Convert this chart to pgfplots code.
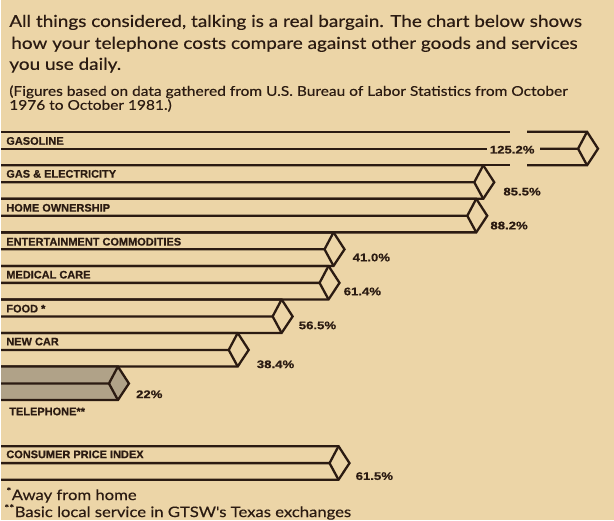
\documentclass[border=0pt]{standalone}
\usepackage{pgfplots}
\pgfplotsset{compat=1.18}
\usepackage{fontspec}
\setmainfont{Lato}
\newfontfamily\head[FakeStretch=1.15,FakeBold=0.4]{Lato}
\newfontfamily\lab[FakeBold=0.6]{Liberation Sans}
\newfontfamily\vlabf[FakeStretch=1.2,FakeBold=0.5]{Liberation Sans}
\definecolor{bg}{HTML}{ECD5A7}
\definecolor{ink}{HTML}{2B1B12}
\definecolor{telfill}{HTML}{B0A288}
% #1 extra options, #2 y of top line, #3 x of bar end (top vertex of cap)
\newcommand\pipe[3][]{%
  \pgfmathsetmacro\Yt{#2}\pgfmathsetmacro\Ym{#2+17}\pgfmathsetmacro\Yb{#2+33.6}%
  \pgfmathsetmacro\Xe{#3}\pgfmathsetmacro\Xr{#3+11}\pgfmathsetmacro\Xl{#3-9}%
  \edef\doit{%
    \noexpand\addplot[ink,line width=2.3pt,line join=miter,#1] coordinates {(0,\Yt) (\Xe,\Yt) (\Xr,\Ym) (\Xe,\Yb) (0,\Yb)};
    \noexpand\addplot[ink,line width=2.3pt,line join=miter] coordinates {(0,\Ym) (\Xl,\Ym) (\Xe,\Yt)};
    \noexpand\addplot[ink,line width=2.3pt] coordinates {(\Xl,\Ym) (\Xe,\Yb)};}%
  \doit}
\newcommand\blab[2]{\node[anchor=base west,inner sep=0pt,text=ink] at (axis cs:5,#1) {\lab\fontsize{11}{12}\selectfont\bfseries #2};}
\newcommand\vlab[3]{\node[anchor=west,inner sep=0pt,text=ink] at (axis cs:#1,#2) {\vlabf\fontsize{11}{12}\selectfont\bfseries #3};}
\begin{document}
\begin{tikzpicture}
\begin{axis}[
  scale only axis, width=614pt, height=521pt,
  xmin=0, xmax=614, ymin=0, ymax=521, y dir=reverse,
  axis lines=none, ticks=none, enlargelimits=false, clip=false,
  axis background/.style={fill=bg},
]
% heading text
\node[anchor=base west,inner sep=0pt,text=ink] at (axis cs:8,27) {\head\fontsize{16.5}{18}\selectfont All things considered, talking is a real bargain. The chart below shows};
\node[anchor=base west,inner sep=0pt,text=ink] at (axis cs:10,49) {\head\fontsize{16.5}{18}\selectfont how your telephone costs compare against other goods and services};
\node[anchor=base west,inner sep=0pt,text=ink] at (axis cs:8,70) {\head\fontsize{16.5}{18}\selectfont you use daily.};
\node[anchor=base west,inner sep=0pt,text=ink] at (axis cs:8,96) {\head\fontsize{13.5}{15}\selectfont (Figures based on data gathered from U.S. Bureau of Labor Statistics from October};
\node[anchor=base west,inner sep=0pt,text=ink] at (axis cs:8,110) {\head\fontsize{13.5}{15}\selectfont 1976 to October 1981.)};

% Gasoline (broken bar): left part
\addplot[ink,line width=2.3pt] coordinates {(0,132) (510,132)};
\addplot[ink,line width=2.3pt] coordinates {(0,149) (487,149)};
\addplot[ink,line width=2.3pt] coordinates {(0,165.6) (510,165.6)};
% Gasoline: right part with cap
\addplot[ink,line width=2.3pt,line join=miter] coordinates {(527,132) (587,132) (598,149) (587,165.6) (527,165.6)};
\addplot[ink,line width=2.3pt,line join=miter] coordinates {(540,149) (578,149) (587,132)};
\addplot[ink,line width=2.3pt] coordinates {(578,149) (587,165.6)};

\pipe{165.6}{483}   % gas & electricity
\pipe{199.2}{476}   % home ownership
\pipe{232.8}{333}   % entertainment commodities
\pipe{266.4}{328}   % medical care
\pipe{300.0}{281}   % food
\pipe{333.6}{237}   % new car
\pipe[fill=telfill]{367.2}{117} % telephone
\pipe{447}{338}     % consumer price index

% bar labels
\blab{145}{GASOLINE}
\blab{178}{GAS \& ELECTRICITY}
\blab{212}{HOME OWNERSHIP}
\blab{246}{ENTERTAINMENT COMMODITIES}
\blab{279}{MEDICAL CARE}
\blab{313}{FOOD *}
\blab{346}{NEW CAR}
\node[anchor=base west,inner sep=0pt,text=ink] at (axis cs:8,416) {\lab\fontsize{11}{12}\selectfont\bfseries TELEPHONE**};
\blab{459}{CONSUMER PRICE INDEX}

% value labels
\node[anchor=center,inner sep=0pt,text=ink] at (axis cs:512,150) {\vlabf\fontsize{11}{12}\selectfont\bfseries 125.2\%};
\vlab{503}{192}{85.5\%}
\vlab{490}{226}{88.2\%}
\vlab{352}{258}{41.0\%}
\vlab{343}{292}{61.4\%}
\vlab{298}{326}{56.5\%}
\vlab{256}{365}{38.4\%}
\vlab{135}{395}{22\%}
\vlab{355}{477}{61.5\%}

% footnotes
\node[anchor=base west,inner sep=0pt,text=ink] at (axis cs:5,501) {\head\fontsize{14.5}{16}\selectfont\textsuperscript{*}Away from home};
\node[anchor=base west,inner sep=0pt,text=ink] at (axis cs:3,518) {\head\fontsize{14.5}{16}\selectfont\textsuperscript{**}Basic local service in GTSW's Texas exchanges};
\end{axis}
\end{tikzpicture}
\end{document}
